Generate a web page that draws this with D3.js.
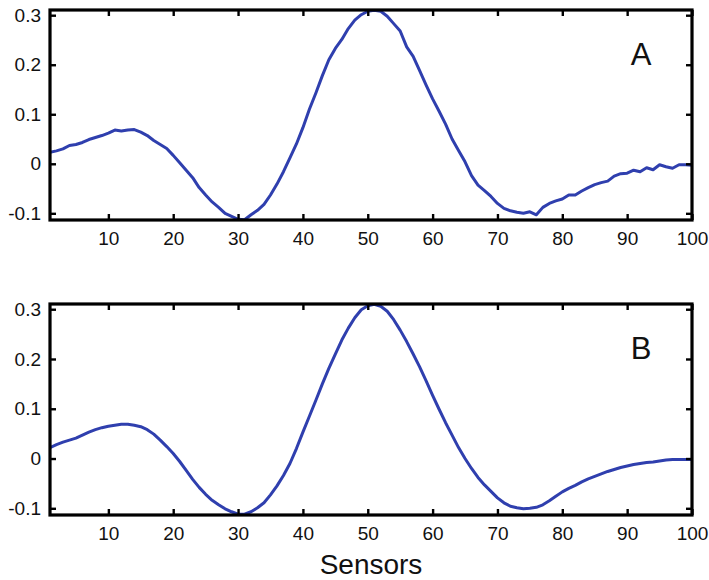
<!DOCTYPE html>
<html>
<head>
<meta charset="utf-8">
<script src="https://cdn.jsdelivr.net/npm/d3@7"></script>
<style>
  html, body { margin: 0; padding: 0; background: #ffffff; }
  svg { display: block; }
  text { font-family: "Liberation Sans", Arial, Helvetica, sans-serif; fill: #111; }
</style>
</head>
<body>
<svg id="chart" width="709" height="580"></svg>
<script>
// ---- data ----
const sensors = d3.range(1, 101);

const seriesA = [
  0.023, 0.026, 0.030, 0.037, 0.039, 0.043, 0.049, 0.053, 0.057, 0.062,
  0.068, 0.066, 0.068, 0.069, 0.064, 0.057, 0.047, 0.039, 0.031, 0.017,
  0.002, -0.013, -0.028, -0.048, -0.063, -0.077, -0.088, -0.100, -0.106, -0.112,
  -0.113, -0.103, -0.094, -0.082, -0.063, -0.041, -0.016, 0.012, 0.040, 0.073,
  0.110, 0.143, 0.178, 0.210, 0.233, 0.251, 0.273, 0.290, 0.301, 0.308,
  0.310, 0.308, 0.298, 0.283, 0.268, 0.236, 0.217, 0.188, 0.159, 0.131,
  0.106, 0.080, 0.050, 0.027, 0.004, -0.024, -0.043, -0.054, -0.066, -0.080,
  -0.090, -0.095, -0.098, -0.100, -0.097, -0.103, -0.088, -0.080, -0.075, -0.071,
  -0.063, -0.063, -0.055, -0.048, -0.042, -0.038, -0.035, -0.025, -0.020, -0.019,
  -0.013, -0.016, -0.008, -0.012, -0.002, -0.006, -0.009, -0.002, -0.002, -0.003
];

const seriesB = [
  0.022, 0.028, 0.033, 0.037, 0.041, 0.047, 0.053, 0.058, 0.062, 0.065,
  0.067, 0.069, 0.069, 0.067, 0.064, 0.058, 0.049, 0.037, 0.024, 0.010,
  -0.006, -0.024, -0.042, -0.058, -0.072, -0.084, -0.093, -0.101, -0.107, -0.112,
  -0.112, -0.107, -0.099, -0.089, -0.073, -0.055, -0.034, -0.010, 0.020, 0.053,
  0.085, 0.117, 0.150, 0.181, 0.210, 0.238, 0.262, 0.283, 0.299, 0.307,
  0.310, 0.306, 0.296, 0.279, 0.258, 0.235, 0.210, 0.184, 0.156, 0.127,
  0.099, 0.072, 0.047, 0.022, 0.000, -0.020, -0.038, -0.053, -0.066, -0.079,
  -0.089, -0.096, -0.099, -0.101, -0.100, -0.098, -0.093, -0.085, -0.076, -0.067,
  -0.060, -0.054, -0.047, -0.041, -0.036, -0.031, -0.026, -0.022, -0.018, -0.015,
  -0.012, -0.010, -0.008, -0.007, -0.005, -0.003, -0.002, -0.002, -0.002, -0.002
];

const xTicks = [10, 20, 30, 40, 50, 60, 70, 80, 90, 100];
const yTicks = [-0.1, 0, 0.1, 0.2, 0.3];
const yTickLabels = ["-0.1", "0", "0.1", "0.2", "0.3"];
const panelLabels = ["A", "B"];
const xDomain = [1, 100];
const yDomain = [-0.1135, 0.3105];
const xTitle = "Sensors";

// ---- layout ----
const svg = d3.select("#chart");
const left = 50, right = 692;
const panels = [
  { top: 10, bottom: 220, data: seriesA, label: panelLabels[0] },
  { top: 304, bottom: 515, data: seriesB, label: panelLabels[1] }
];
const lineColor = "#2f3fae";

const x = d3.scaleLinear().domain(xDomain).range([left, right]);

panels.forEach((p, i) => {
  const y = d3.scaleLinear().domain(yDomain).range([p.bottom, p.top]);
  const g = svg.append("g");
  const w = right - left, h = p.bottom - p.top;

  const clipId = "clip" + i;
  g.append("clipPath").attr("id", clipId)
    .append("rect").attr("x", left).attr("y", p.top - 1).attr("width", w).attr("height", h + 2);

  const line = d3.line()
    .x((d, j) => x(sensors[j]))
    .y(d => y(d));
  g.append("path")
    .datum(p.data)
    .attr("clip-path", `url(#${clipId})`)
    .attr("fill", "none")
    .attr("stroke", lineColor)
    .attr("stroke-width", 3)
    .attr("stroke-linejoin", "round")
    .attr("d", line);

  const styleAxis = sel => {
    sel.select(".domain").remove();
    sel.selectAll(".tick line").attr("stroke", "#000").attr("stroke-width", 2.4);
    sel.selectAll(".tick text").style("font-size", "19px").attr("fill", "#111");
  };

  g.append("g").attr("transform", `translate(0,${p.bottom})`)
    .call(d3.axisBottom(x).tickValues(xTicks).tickSize(-6).tickPadding(12).tickFormat(d3.format("d")))
    .call(styleAxis);
  g.append("g").attr("transform", `translate(0,${p.top})`)
    .call(d3.axisTop(x).tickValues(xTicks).tickSize(-6).tickFormat(""))
    .call(styleAxis);
  g.append("g").attr("transform", `translate(${left},0)`)
    .call(d3.axisLeft(y).tickValues(yTicks).tickSize(-6).tickPadding(9)
      .tickFormat((d, k) => yTickLabels[k]))
    .call(styleAxis);
  g.append("g").attr("transform", `translate(${right},0)`)
    .call(d3.axisRight(y).tickValues(yTicks).tickSize(-6).tickFormat(""))
    .call(styleAxis);

  g.append("rect")
    .attr("x", left).attr("y", p.top).attr("width", w).attr("height", h)
    .attr("fill", "none").attr("stroke", "#000").attr("stroke-width", 3.2);

  g.append("text")
    .attr("x", 641).attr("y", p.top + 55)
    .attr("text-anchor", "middle")
    .style("font-size", "31px")
    .text(p.label);
});

svg.append("text")
  .attr("x", (left + right) / 2).attr("y", 574)
  .attr("text-anchor", "middle")
  .style("font-size", "28px")
  .text(xTitle);
</script>
</body>
</html>
